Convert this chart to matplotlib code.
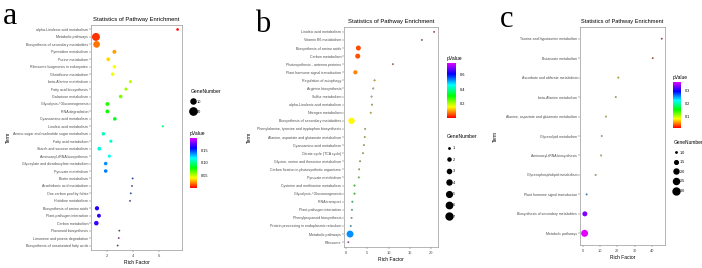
import numpy as np
import matplotlib
matplotlib.use("Agg")
import matplotlib.pyplot as plt
from matplotlib.colors import LinearSegmentedColormap, Normalize
from matplotlib.lines import Line2D

# ---- panel a data (top to bottom) ----
a_terms = ["alpha-Linolenic acid metabolism", "Metabolic pathways",
           "Biosynthesis of secondary metabolites", "Pyrimidine metabolism",
           "Purine metabolism", "Ribosome biogenesis in eukaryotes",
           "Glutathione metabolism", "beta-Alanine metabolism",
           "Fatty acid biosynthesis", "Galactose metabolism",
           "Glycolysis / Gluconeogenesis", "RNA degradation",
           "Cyanoamino acid metabolism", "Linoleic acid metabolism",
           "Amino sugar and nucleotide sugar metabolism", "Fatty acid metabolism",
           "Starch and sucrose metabolism", "Aminoacyl-tRNA biosynthesis",
           "Glyoxylate and dicarboxylate metabolism", "Pyruvate metabolism",
           "Biotin metabolism", "Arachidonic acid metabolism",
           "One carbon pool by folate", "Histidine metabolism",
           "Biosynthesis of amino acids", "Plant-pathogen interaction",
           "Carbon metabolism", "Flavonoid biosynthesis",
           "Limonene and pinene degradation", "Biosynthesis of unsaturated fatty acids"]
a_rich = [7.43, 1.15, 1.2, 2.57, 2.1, 2.57, 2.44, 3.8, 3.46, 3.05,
          2.03, 2.03, 2.6, 6.3, 1.72, 2.3, 1.41, 2.18, 1.9, 1.9,
          3.97, 3.92, 3.83, 3.77, 1.23, 1.38, 1.18, 2.95, 2.9, 2.82]
a_pvalue = [0.003, 0.008, 0.018, 0.025, 0.035, 0.04, 0.042, 0.05, 0.055, 0.062,
            0.075, 0.078, 0.085, 0.1, 0.11, 0.112, 0.115, 0.118, 0.138, 0.14,
            0.15, 0.15, 0.152, 0.152, 0.165, 0.168, 0.17, 0.19, 0.19, 0.192]
a_genes = [3, 24, 17, 6, 6, 5, 5, 4, 4, 5, 6, 6, 5, 2, 5, 4, 6, 4, 5, 5,
           1, 1, 1, 1, 7, 6, 8, 1, 1, 1]

# ---- panel b data ----
b_terms = ["Linoleic acid metabolism", "Vitamin B6 metabolism",
           "Biosynthesis of amino acids", "Carbon metabolism",
           "Photosynthesis - antenna proteins", "Plant hormone signal transduction",
           "Regulation of autophagy", "Arginine biosynthesis", "Sulfur metabolism",
           "alpha-Linolenic acid metabolism", "Nitrogen metabolism",
           "Biosynthesis of secondary metabolites",
           "Phenylalanine, tyrosine and tryptophan biosynthesis",
           "Alanine, aspartate and glutamate metabolism",
           "Cyanoamino acid metabolism", "Citrate cycle (TCA cycle)",
           "Glycine, serine and threonine metabolism",
           "Carbon fixation in photosynthetic organisms", "Pyruvate metabolism",
           "Cysteine and methionine metabolism", "Glycolysis / Gluconeogenesis",
           "RNA transport", "Plant-pathogen interaction",
           "Phenylpropanoid biosynthesis",
           "Protein processing in endoplasmic reticulum", "Metabolic pathways",
           "Ribosome"]
b_rich = [20.7, 17.8, 2.9, 2.75, 11.0, 2.2, 6.7, 6.4, 6.0, 6.1, 5.8, 1.3,
          4.5, 4.4, 4.2, 4.0, 3.3, 3.1, 3.0, 2.0, 2.0, 1.5, 1.4, 1.3, 1.1,
          0.95, 0.55]
b_pvalue = [0.01, 0.02, 0.045, 0.05, 0.06, 0.08, 0.12, 0.125, 0.13, 0.135,
            0.14, 0.15, 0.17, 0.175, 0.18, 0.185, 0.22, 0.225, 0.23, 0.29,
            0.3, 0.37, 0.38, 0.45, 0.5, 0.52, 0.76]
b_genes = [1, 1, 4, 4, 1, 3, 1, 1, 1, 1, 1, 6, 1, 1, 1, 1, 1, 1, 1, 1, 1,
           1, 1, 1, 1, 7, 1]

# ---- panel c data ----
c_terms = ["Taurine and hypotaurine metabolism", "Butanoate metabolism",
           "Ascorbate and aldarate metabolism", "beta-Alanine metabolism",
           "Alanine, aspartate and glutamate metabolism",
           "Glycerolipid metabolism", "Aminoacyl-tRNA biosynthesis",
           "Glycerophospholipid metabolism", "Plant hormone signal transduction",
           "Biosynthesis of secondary metabolites", "Metabolic pathways"]
c_rich = [45.6, 40.4, 20.6, 19.1, 13.5, 11.0, 10.7, 7.5, 2.3, 1.3, 1.15]
c_pvalue = [0.02, 0.025, 0.08, 0.082, 0.085, 0.088, 0.09, 0.095, 0.25, 0.33, 0.36]
c_genes = [1, 1, 1, 1, 1, 1, 1, 1, 1, 2, 3]

W, H = 702, 268
rainbow = LinearSegmentedColormap.from_list(
    "rb", ["#FF0000", "#FFFF00", "#00FF00", "#00FFFF", "#0000FF", "#E000FF"])
plt.rcParams["font.family"] = ["Liberation Sans", "DejaVu Sans"]


def box(fig, left, top, right, bottom):
    # pixel box -> figure axes
    return fig.add_axes([left / W, 1 - bottom / H, (right - left) / W, (bottom - top) / H])


def panel(fig, terms, rich, pval, genes, frame, xlim, xticks, prange, smax,
          gvals, cbar_frame, cticks, gn_xy, letter, letter_xy, fs, ylpad):
    ax = box(fig, *frame)
    n = len(terms)
    ypos = np.arange(n)
    g = np.array(genes, float)
    s = 1 + (smax - 1) * (g - 1) / max(g.max() - 1, 1)
    norm = Normalize(*prange)
    edges = ["0.35" if v == 1 else "none" for v in genes]
    sc = ax.scatter(rich, ypos, s=s, c=pval, cmap=rainbow, norm=norm,
                    edgecolors=edges, linewidths=0.3, zorder=3)
    ax.set_xlim(*xlim)
    ax.set_ylim(n - 1 + 0.6, -0.6)
    ax.set_yticks(ypos)
    ax.set_yticklabels(terms, fontsize=fs)
    ax.set_xticks(xticks)
    ax.tick_params(axis="x", labelsize=fs + 0.3, length=1.2, width=0.3, pad=1.5,
                   colors="0.3")
    ax.tick_params(axis="y", length=1.2, width=0.3, pad=0.8, colors="0.3")
    for sp in ax.spines.values():
        sp.set_color("0.6")
        sp.set_linewidth(0.5)
    ax.set_title("Statistics of Pathway Enrichment", fontsize=fs + 1.6, pad=3)
    ax.set_xlabel("Rich Factor", fontsize=fs + 1, labelpad=1.5)
    ax.set_ylabel("Term", fontsize=fs + 1, labelpad=ylpad)

    cax = box(fig, *cbar_frame)
    cb = fig.colorbar(sc, cax=cax, ticks=cticks)
    cb.outline.set_visible(False)
    cax.tick_params(labelsize=fs + 0.2, length=1.5, width=0.4, color="white", pad=1.5)
    cax.set_title("pValue", fontsize=fs + 1, loc="left", pad=2)

    handles = [Line2D([], [], ls="", marker="o", color="black",
                      markersize=np.sqrt(1 + (smax - 1) * (v - 1) / max(g.max() - 1, 1)))
               for v in gvals]
    ax.legend(handles, [str(v) for v in gvals], title="GeneNumber", frameon=False,
              loc="upper left", bbox_to_anchor=(gn_xy[0] / W, 1 - gn_xy[1] / H),
              bbox_transform=fig.transFigure, fontsize=fs + 0.2,
              title_fontsize=fs + 1, borderpad=0, handletextpad=0.5,
              labelspacing=gn_xy[2], alignment="left", handlelength=1)
    fig.text(letter_xy[0] / W, 1 - letter_xy[1] / H, letter, fontsize=letter_xy[2],
             family="Liberation Serif", ha="center", va="baseline")


fig = plt.figure(figsize=(W / 100, H / 100), dpi=100)

panel(fig, a_terms, a_rich, a_pvalue, a_genes, (91, 25, 182, 250), (0.77, 7.77),
      [2, 4, 6], (0.0, 0.2), 33, [10, 20], (190, 138, 197, 188), [0.05, 0.10, 0.15],
      (189, 87, 1.5), "a", (10, 24, 23), 2.6, 2)

panel(fig, b_terms, b_rich, b_pvalue, b_genes, (344, 27, 438, 247), (-0.47, 21.6),
      [0, 5, 10, 15, 20], (0.0, 0.76), 25, [1, 2, 3, 4, 5, 6, 7], (447, 63, 456, 118),
      [0.2, 0.4, 0.6], (445, 132, 1.9), "b", (263, 32, 22), 2.6, 4)

panel(fig, c_terms, c_rich, c_pvalue, c_genes, (580, 27, 665, 245), (-1.5, 47.5),
      [0, 10, 20, 30, 40], (0.018, 0.36), 25, [1.0, 1.5, 2.0, 2.5, 3.0],
      (673, 82, 681, 128), [0.1, 0.2, 0.3], (672, 138, 1.5), "c", (507, 27, 22), 2.5, 6)

fig.savefig("out.png", dpi=100)
